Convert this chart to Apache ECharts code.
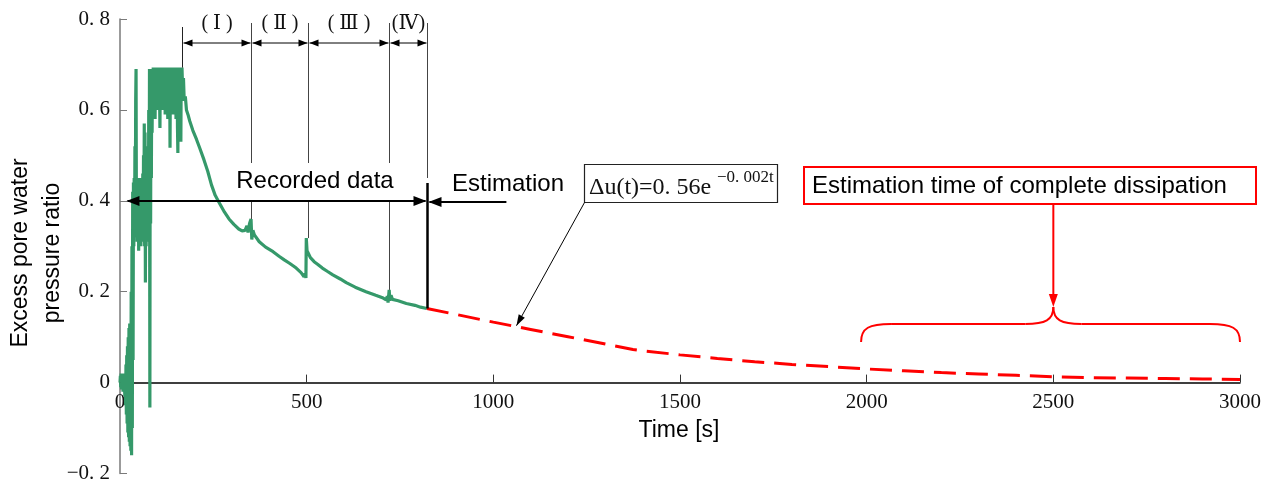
<!DOCTYPE html>
<html>
<head>
<meta charset="utf-8">
<script src="https://cdn.jsdelivr.net/npm/echarts@6/dist/echarts.min.js"></script>
<style>html,body{margin:0;padding:0;background:#fff}#c{width:1264px;height:484px}</style>
</head>
<body>
<div id="c"></div>
<script>
// ---------- data ----------
const xTickValues = [0, 500, 1000, 1500, 2000, 2500, 3000];
const xTickLabels = ['0', '500', '1000', '1500', '2000', '2500', '3000'];
const yTickValues = [-0.2, 0, 0.2, 0.4, 0.6, 0.8];
const yTickLabels = ['\u22120. 2', '0', '0. 2', '0. 4', '0. 6', '0. 8'];

// recorded excess pore water pressure ratio (green)
const recordedTime = [
  0,1,2,3,4,5,6,7,8,9,10,11,12,13,14,15,16,17,18,19,20,21,22,23,24,25,26,27,28,29,
  30,31,32,33,34,35,36,37,38,39,40,41,42,43,44,45,46,47,48,49,50,51,52,53,54,55,56,57,58,59,
  60,61,62,63,64,65,66,67,68,69,70,71,72,73,74,75,76,77,78,79,80,81,82,83,84,85,86,87,
  88,89,90,91,92,93,94,95,96,97,98,99,100,101,102,103,104,105,106,107,108,109,110,111,112,113,
  114,115,116,117,118,119,120,121,122,123,124,125,126,127,128,129,130,131,132,133,134,135,136,137,138,139,
  140,141,142,143,144,145,146,147,148,149,150,151,152,153,154,155,156,157,158,159,160,161,162,163,164,165,166,
  168,170,172,175,178,182,187,195,205,214,225,235,245,255,265,280,292,305,318,327,335,340,343,347,351,353,356,360,
  373,390,410,426,440,455,472,485,493,496,498,499,501,504,510,520,530,542,555,570,590,606,630,659,685,705,713,716,718,
  721,723,726,730,745,767,790,805,822
];
const recordedRatio = [
  0.00,0.015,-0.01,0.02,-0.015,0.01,0.0,0.02,-0.02,0.01,0.005,0.015,-0.01,-0.03,0.02,-0.05,0.04,-0.07,0.06,-0.09,
  0.08,-0.11,0.10,-0.12,0.12,-0.13,0.13,-0.14,0.13,-0.15,
  0.20,-0.16,0.30,-0.10,0.42,0.05,0.44,0.30,0.45,0.32,0.52,0.34,0.62,0.69,0.36,0.44,0.31,0.43,0.33,0.45,
  0.29,0.44,0.32,0.42,0.33,0.45,0.30,0.44,0.34,0.43,
  0.32,0.46,0.33,0.50,0.31,0.57,0.30,0.55,0.22,0.48,0.30,0.52,0.33,0.45,0.31,0.50,0.34,0.60,0.32,0.69,
  -0.055,0.69,0.35,0.69,0.45,0.69,0.55,0.69,
  0.62,0.693,0.60,0.693,0.63,0.693,0.58,0.693,0.62,0.693,0.64,0.693,0.60,0.693,0.62,0.693,0.61,0.693,0.63,0.56,
  0.693,0.60,0.693,0.63,0.693,0.61,
  0.693,0.62,0.693,0.60,0.693,0.64,0.693,0.59,0.693,0.62,0.693,0.60,0.693,0.63,0.58,0.693,0.61,0.693,0.60,0.693,
  0.517,0.693,0.62,0.693,0.60,0.693,
  0.63,0.693,0.59,0.693,0.62,0.693,0.60,0.693,0.61,0.693,0.58,0.693,0.60,0.693,0.56,0.505,0.693,0.60,0.693,0.58,
  0.693,0.60,0.693,0.53,0.693,0.62,0.693,
  0.64,0.67,0.62,0.63,0.60,0.59,0.575,0.555,0.535,0.515,0.49,0.465,0.435,0.412,0.397,0.375,0.36,0.348,0.338,0.334,
  0.335,0.345,0.33,0.35,0.36,0.315,0.335,0.325,
  0.31,0.298,0.288,0.278,0.27,0.262,0.252,0.242,0.233,0.24,0.23,0.318,0.29,0.285,0.275,0.266,0.26,0.252,0.245,0.237,
  0.228,0.22,0.21,0.20,0.192,0.186,0.182,0.19,0.176,
  0.204,0.18,0.192,0.183,0.18,0.174,0.17,0.166,0.163
];

// estimated dissipation (red dashed)
const estimateTime = [822, 900, 1000, 1062, 1100, 1200, 1300, 1374, 1400, 1500, 1600, 1700, 1767, 1800, 1900, 2000,
  2100, 2200, 2300, 2400, 2500, 2600, 2700, 2800, 2900, 3000];
const estimateRatio = [0.163, 0.150, 0.133, 0.123, 0.117, 0.101, 0.085, 0.073, 0.070, 0.061, 0.053, 0.046, 0.042, 0.040, 0.035, 0.030,
  0.026, 0.022, 0.019, 0.016, 0.013, 0.011, 0.010, 0.009, 0.008, 0.007];

// stage annotations
const stageBounds = [166, 351, 504, 721, 822];
const stageCurveValues = [0.693, 0.36, 0.318, 0.204, 0.163];
const stageLabels = ['( \u2160 )', '( \u2161 )', '( \u2162 )', '(\u2163)'];
const braceRange = [1985, 2500, 3000];

// ---------- chart ----------
const SERIF = "'Liberation Serif', 'DejaVu Serif', serif";
const SANS = "'Liberation Sans', Arial, sans-serif";
const chart = echarts.init(document.getElementById('c'), null, { renderer: 'canvas' });

const zip = (a, b) => a.map((v, i) => [v, b[i]]);
const GRID_TOP = 19, GRID_BOTTOM = 10.5, H = 484;
const gridH = H - GRID_TOP - GRID_BOTTOM;
// place x axis at y = 0 (0.2 of the y range above the bottom)
const xAxisOffset = -gridH * (0 - (-0.2)) / (0.8 - (-0.2));

chart.setOption({
  animation: false,
  grid: { left: 120, right: 24, top: GRID_TOP, bottom: GRID_BOTTOM, containLabel: false, outerBoundsMode: 'none' },
  xAxis: {
    type: 'value', min: 0, max: 3000, interval: 500, offset: xAxisOffset,
    axisLine: { onZero: false, lineStyle: { color: '#000', width: 1.5 } },
    axisTick: { inside: true, length: 8, lineStyle: { color: '#333', width: 1 } },
    axisLabel: {
      margin: 9, fontFamily: SERIF, fontSize: 21, color: '#111',
      formatter: v => { const i = xTickValues.indexOf(v); return i >= 0 ? xTickLabels[i] : ''; }
    },
    splitLine: { show: false }
  },
  yAxis: {
    type: 'value', min: -0.2, max: 0.8, interval: 0.2,
    axisLine: { lineStyle: { color: '#7a7a7a', width: 1.5 } },
    axisTick: { inside: true, length: 7, lineStyle: { color: '#7a7a7a', width: 1 } },
    axisLabel: {
      margin: 10, fontFamily: SERIF, fontSize: 21, color: '#111',
      formatter: v => {
        const k = Math.round(v * 10);
        const i = yTickValues.findIndex(t => Math.round(t * 10) === k);
        return i >= 0 ? yTickLabels[i] : '';
      }
    },
    splitLine: { show: false }
  },
  series: [
    {
      type: 'line', data: zip(recordedTime, recordedRatio), showSymbol: false,
      lineStyle: { color: '#35996a', width: 3.2 }, z: 3
    },
    {
      type: 'line', data: zip(estimateTime, estimateRatio), showSymbol: false, smooth: false,
      lineStyle: { color: '#ff0000', width: 3, type: [22, 10] }, z: 3
    }
  ]
});

// ---------- annotations ----------
const P = (t, v) => chart.convertToPixel({ gridIndex: 0 }, [t, v]);
const g = [];
function seg(x1, y1, x2, y2, w, c) {
  g.push({ type: 'line', shape: { x1, y1, x2, y2 }, style: { stroke: c, lineWidth: w }, z: 10 });
}
function curve(x1, y1, cx1, cy1, cx2, cy2, x2, y2, w, c) {
  g.push({ type: 'bezierCurve', shape: { x1, y1, cpx1: cx1, cpy1: cy1, cpx2: cx2, cpy2: cy2, x2, y2 },
    style: { stroke: c, lineWidth: w, fill: null }, z: 10 });
}
function head(tx, ty, dx, dy, len, hw, c) {
  const n = Math.hypot(dx, dy), ux = dx / n, uy = dy / n;
  const bx = tx - ux * len, by = ty - uy * len;
  g.push({ type: 'polygon', shape: { points: [[tx, ty], [bx - uy * hw, by + ux * hw], [bx + uy * hw, by - ux * hw]] },
    style: { fill: c }, z: 11 });
}
function txt(x, y, s, family, size, align, color, extra) {
  g.push(Object.assign({ type: 'text', x, y, z: 12,
    style: { text: s, fontFamily: family, fontSize: size, fill: color || '#000', align: align || 'center', verticalAlign: 'middle' } }, extra || {}));
}

const xs = stageBounds.map(t => Math.round(P(t, 0)[0]) + 0.5);
const yb = stageBounds.map((t, i) => P(t, stageCurveValues[i])[1]);

// stage boundary lines
seg(xs[0], 27, xs[0], yb[0], 1, '#222');
for (let i = 1; i <= 3; i++) {
  seg(xs[i], 23, xs[i], 163, 1, '#444');
  seg(xs[i], 201, xs[i], yb[i], 1, '#444');
}
seg(xs[4], 23, xs[4], 178, 1, '#444');
seg(xs[4], 183, xs[4], yb[4], 2.5, '#000');

// stage double arrows and labels
for (let i = 0; i < 4; i++) {
  seg(xs[i] + 1, 43, xs[i + 1] - 1, 43, 1, '#000');
  head(xs[i] + 1, 43, -1, 0, 9, 3.5, '#000');
  head(xs[i + 1] - 1, 43, 1, 0, 9, 3.5, '#000');
  txt((xs[i] + xs[i + 1]) / 2, 24, stageLabels[i], SERIF, 20, 'center', '#111');
}

// recorded data arrow
const xl = P(20, 0)[0];
seg(xl, 201, xs[4] - 2, 201, 2, '#000');
head(xl - 1, 201, -1, 0, 13, 5, '#000');
head(xs[4] - 1, 201, 1, 0, 13, 5, '#000');
txt(315, 181, 'Recorded data', SANS, 24, 'center');

// estimation arrow
const xe = P(1035, 0)[0];
seg(xs[4] + 2, 202, xe, 202, 2, '#000');
head(xs[4] + 1, 202, -1, 0, 13, 5, '#000');
txt(452, 184, 'Estimation', SANS, 24, 'left');

// formula box with pointer
g.push({ type: 'rect', shape: { x: 584.5, y: 164.5, width: 193, height: 38 },
  style: { fill: '#fff', stroke: '#222', lineWidth: 1.2 }, z: 10 });
txt(589, 188, '\u0394u(t)=0. 56e', SERIF, 24, 'left', '#111');
txt(717, 178, '\u22120. 002t', SERIF, 17, 'left', '#111');
const fp = P(1062, 0.123);
seg(584.5, 202.5, fp[0], fp[1] - 1, 1, '#000');
head(fp[0], fp[1] - 1, fp[0] - 584.5, fp[1] - 202.5, 11, 3.5, '#000');

// red box, arrow and brace
g.push({ type: 'rect', shape: { x: 804, y: 167, width: 452, height: 37 },
  style: { fill: '#fff', stroke: '#ff0000', lineWidth: 2 }, z: 10 });
txt(812, 186, 'Estimation time of complete dissipation', SANS, 24, 'left');
const bx1 = P(braceRange[0], 0)[0], bxm = P(braceRange[1], 0)[0], bx2 = P(braceRange[2], 0)[0];
seg(bxm, 204, bxm, 296, 2, '#ff0000');
head(bxm, 307, 0, 1, 13, 4.5, '#ff0000');
const by0 = 342, by1 = 324, byp = 307;
curve(bx1, by0, bx1, by1 + 4, bx1 + 8, by1, bx1 + 30, by1, 2, '#ff0000');
seg(bx1 + 30, by1, bxm - 28, by1, 2, '#ff0000');
curve(bxm - 28, by1, bxm - 8, by1, bxm, by1 - 4, bxm, byp, 2, '#ff0000');
curve(bxm, byp, bxm, by1 - 4, bxm + 8, by1, bxm + 28, by1, 2, '#ff0000');
seg(bxm + 28, by1, bx2 - 30, by1, 2, '#ff0000');
curve(bx2 - 30, by1, bx2 - 8, by1, bx2, by1 + 4, bx2, by0, 2, '#ff0000');

// axis titles
txt(679, 431, 'Time [s]', SANS, 23, 'center');
g.push({ type: 'text', x: 37, y: 253, rotation: Math.PI / 2, z: 12,
  style: { text: 'Excess pore water\npressure ratio', fontFamily: SANS, fontSize: 23, fill: '#000',
    align: 'center', verticalAlign: 'middle', lineHeight: 32 } });

chart.setOption({ graphic: { elements: g } });
</script>
</body>
</html>
